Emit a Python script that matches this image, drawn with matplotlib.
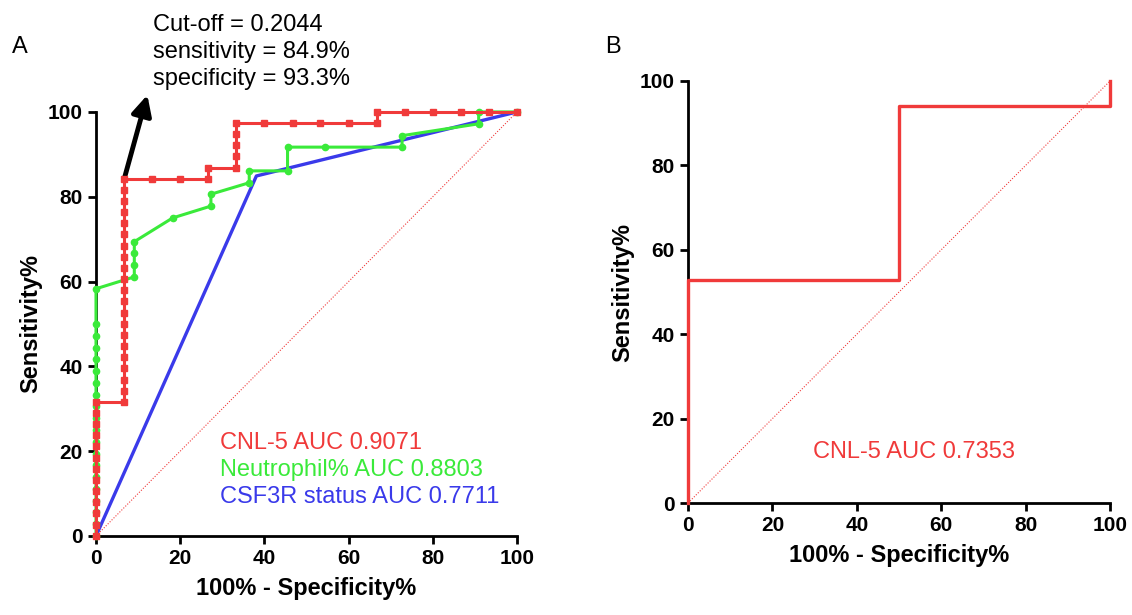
import matplotlib.pyplot as plt

plt.rcParams['font.family'] = ['Liberation Sans', 'DejaVu Sans']

RED = '#f03a3a'
GREEN = '#3aea3a'
BLUE = '#3a3aea'

# Panel A: CNL-5 (100% - specificity, sensitivity) in %
cnl_fpr = [0, 0, 0, 0, 0, 0, 0, 0, 0, 0, 0, 0, 0,
           6.7, 6.7, 6.7, 6.7, 6.7, 6.7, 6.7, 6.7, 6.7, 6.7, 6.7,
           6.7, 6.7, 6.7, 6.7, 6.7, 6.7, 6.7, 6.7, 6.7, 6.7,
           13.3, 20.0, 26.7, 26.7,
           33.3, 33.3, 33.3, 33.3, 33.3,
           40.0, 46.7, 53.3, 60.0, 66.7, 66.7,
           73.3, 80.0, 86.7, 93.3, 100]
cnl_tpr = [0, 2.6, 5.3, 7.9, 10.5, 13.2, 15.8, 18.4, 21.1, 23.7, 26.3, 28.9, 31.6,
           31.6, 34.2, 36.8, 39.5, 42.1, 44.7, 47.4, 50.0, 52.6, 55.3, 57.9,
           60.5, 63.2, 65.8, 68.4, 71.1, 73.7, 76.3, 78.9, 81.6, 84.2,
           84.2, 84.2, 84.2, 86.8,
           86.8, 89.5, 92.1, 94.7, 97.4,
           97.4, 97.4, 97.4, 97.4, 97.4, 100,
           100, 100, 100, 100, 100]

# Panel A: Neutrophil%
neu_fpr = [0, 0, 0, 0, 0, 0, 0, 0, 0, 0, 0, 0, 0, 0, 0, 0, 0, 0, 0, 0,
           9.1, 9.1, 9.1, 9.1, 18.2, 27.3, 27.3, 36.4, 36.4, 45.5, 45.5,
           54.5, 72.7, 72.7, 90.9, 90.9, 100]
neu_tpr = [0, 2.8, 5.6, 8.3, 11.1, 13.9, 16.7, 19.4, 22.2, 25.0, 27.8, 30.6,
           33.3, 36.1, 38.9, 41.7, 44.4, 47.2, 50.0, 58.3,
           61.1, 63.9, 66.7, 69.4, 75.0, 77.8, 80.6, 83.3, 86.1, 86.1, 91.7,
           91.7, 91.7, 94.4, 97.2, 100, 100]

# Panel A: CSF3R status
csf_fpr = [0, 38.1, 100]
csf_tpr = [0, 84.9, 100]

# Panel B: CNL-5
b_fpr = [0, 0, 50, 50, 100, 100]
b_tpr = [0, 52.9, 52.9, 94.1, 94.1, 100]

ticks = [0, 20, 40, 60, 80, 100]


def style_axes(ax):
    for side in ['top', 'right']:
        ax.spines[side].set_visible(False)
    for side in ['left', 'bottom']:
        ax.spines[side].set_linewidth(2)
    ax.set_xlim(0, 100)
    ax.set_ylim(0, 100)
    ax.set_xticks(ticks)
    ax.set_yticks(ticks)
    ax.tick_params(width=2, length=6, labelsize=15)
    for lbl in ax.get_xticklabels() + ax.get_yticklabels():
        lbl.set_fontweight('bold')
    ax.set_xlabel('100% - Specificity%', fontsize=17, fontweight='bold', labelpad=6)
    ax.set_ylabel('Sensitivity%', fontsize=17, fontweight='bold', labelpad=4)
    ax.plot([0, 100], [0, 100], color=RED, lw=0.8, ls=(0, (1, 1.5)), zorder=1)


fig = plt.figure(figsize=(11.32, 6.15), dpi=100)
ax1 = fig.add_axes([0.0848, 0.1285, 0.3719, 0.6895])
ax2 = fig.add_axes([0.6078, 0.1821, 0.3728, 0.6862])

for ax in (ax1, ax2):
    style_axes(ax)

ax1.plot(csf_fpr, csf_tpr, color=BLUE, lw=2.4, zorder=2, clip_on=False)
ax1.plot(neu_fpr, neu_tpr, color=GREEN, lw=2.2, marker='o', ms=4.5, zorder=3, clip_on=False)
ax1.plot(cnl_fpr, cnl_tpr, color=RED, lw=2.2, marker='s', ms=5, zorder=4, clip_on=False)

ax1.annotate('', xy=(12.2, 104.0), xytext=(6.7, 84.2), annotation_clip=False,
             arrowprops=dict(arrowstyle='-|>,head_length=1.2,head_width=0.6',
                             color='black', lw=3.5, shrinkA=0, shrinkB=0))
fig.text(0.135, 0.978, 'Cut-off = 0.2044\nsensitivity = 84.9%\nspecificity = 93.3%',
         fontsize=17, va='top', ha='left', linespacing=1.3)

ax1.text(29.5, 22.0, 'CNL-5 AUC 0.9071', color=RED, fontsize=17, va='center')
ax1.text(29.5, 15.6, 'Neutrophil% AUC 0.8803', color=GREEN, fontsize=17, va='center')
ax1.text(29.5, 9.2, 'CSF3R status AUC 0.7711', color=BLUE, fontsize=17, va='center')

ax2.plot(b_fpr, b_tpr, color=RED, lw=2.4, zorder=3, clip_on=False)
ax2.text(29.5, 12.0, 'CNL-5 AUC 0.7353', color=RED, fontsize=17, va='center')

fig.text(0.011, 0.923, 'A', fontsize=17, va='center')
fig.text(0.535, 0.923, 'B', fontsize=17, va='center')

fig.savefig('out.png', dpi=100)
